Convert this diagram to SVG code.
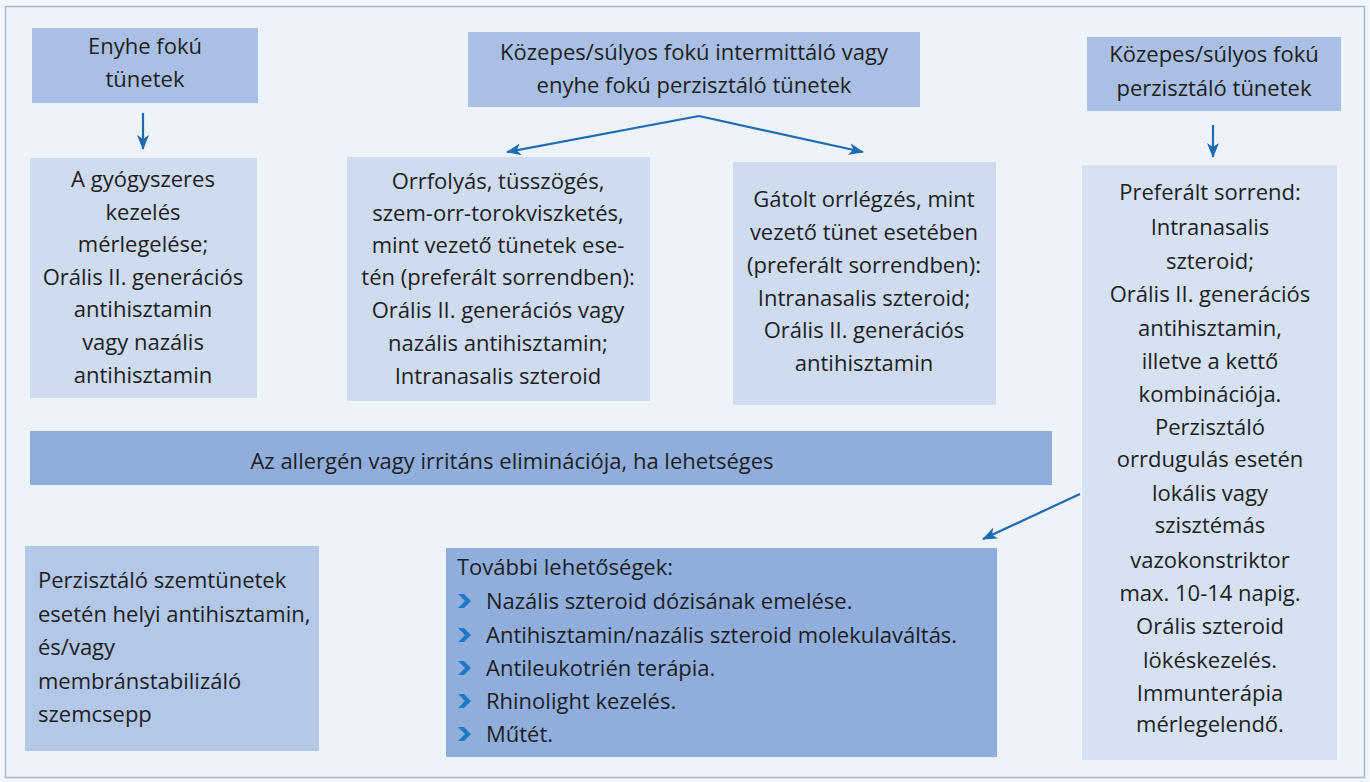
<svg xmlns="http://www.w3.org/2000/svg" width="1370" height="782" viewBox="0 0 1370 782">
<defs>
<style>
text{font-family:"Open Sans","Noto Sans","Liberation Sans",sans-serif;font-size:22px;fill:#1e1e1e}
.c{text-anchor:middle}
.arrow{stroke:#1f6bb3;stroke-width:2.2;fill:none}
.top{fill:#a9c0e4}
.light{fill:#cfdbee}
.lighter{fill:#d6e1f1}
.dark{fill:#8faedc}
.mid{fill:#b3c7e8}
.bul{fill:#1f78c8}
</style>
<marker id="ah" viewBox="0 0 15 12" refX="14" refY="6" markerWidth="15" markerHeight="12" markerUnits="userSpaceOnUse" orient="auto">
<path d="M0,0 L15,6 L0,12 L4,6 Z" fill="#1f6bb3"/>
</marker>
<polygon id="chev" points="0,0 6,0 13,7 6,14 0,14 7,7" class="bul"/>
</defs>
<rect x="0" y="0" width="1370" height="782" fill="#f2f6fb"/>
<rect x="5.5" y="6.5" width="1359" height="771" fill="#eef3fa" stroke="#a9b8cc" stroke-width="1.5"/>

<g id="n-enyhe">
<rect class="top" x="32" y="28" width="226" height="75"/>
<text class="c" x="145" y="54">Enyhe fokú</text>
<text class="c" x="145" y="87">tünetek</text>
</g>
<g id="n-kozepes-int">
<rect class="top" x="468" y="32" width="452" height="75"/>
<text class="c" x="694" y="60">Közepes/súlyos fokú intermittáló vagy</text>
<text class="c" x="694" y="93">enyhe fokú perzisztáló tünetek</text>
</g>
<g id="n-kozepes-perz">
<rect class="top" x="1087" y="37" width="254" height="74"/>
<text class="c" x="1214" y="62">Közepes/súlyos fokú</text>
<text class="c" x="1214" y="96">perzisztáló tünetek</text>
</g>
<g id="n-gyogyszeres">
<rect class="light" x="30" y="158" width="227" height="240"/>
<text class="c" x="143" y="187">A gyógyszeres</text>
<text class="c" x="143" y="220">kezelés</text>
<text class="c" x="143" y="252">mérlegelése;</text>
<text class="c" x="143" y="285">Orális II. generációs</text>
<text class="c" x="143" y="317">antihisztamin</text>
<text class="c" x="143" y="350">vagy nazális</text>
<text class="c" x="143" y="383">antihisztamin</text>
</g>
<g id="n-orrfolyas">
<rect class="light" x="347" y="157" width="303" height="244"/>
<text class="c" x="498" y="189">Orrfolyás, tüsszögés,</text>
<text class="c" x="498" y="221">szem-orr-torokviszketés,</text>
<text class="c" x="498" y="253">mint vezető tünetek ese-</text>
<text class="c" x="498" y="285">tén (preferált sorrendben):</text>
<text class="c" x="498" y="318">Orális II. generációs vagy</text>
<text class="c" x="498" y="351">nazális antihisztamin;</text>
<text class="c" x="498" y="384">Intranasalis szteroid</text>
</g>
<g id="n-gatolt">
<rect class="light" x="733" y="162" width="263" height="243"/>
<text class="c" x="864" y="207">Gátolt orrlégzés, mint</text>
<text class="c" x="864" y="240">vezető tünet esetében</text>
<text class="c" x="864" y="273">(preferált sorrendben):</text>
<text class="c" x="864" y="306">Intranasalis szteroid;</text>
<text class="c" x="864" y="338">Orális II. generációs</text>
<text class="c" x="864" y="371">antihisztamin</text>
</g>
<g id="n-preferalt">
<rect class="lighter" x="1082" y="165" width="255" height="595"/>
<text class="c" x="1210" y="200">Preferált sorrend:</text>
<text class="c" x="1210" y="235">Intranasalis</text>
<text class="c" x="1210" y="269">szteroid;</text>
<text class="c" x="1210" y="302">Orális II. generációs</text>
<text class="c" x="1210" y="336">antihisztamin,</text>
<text class="c" x="1210" y="369">illetve a kettő</text>
<text class="c" x="1210" y="402">kombinációja.</text>
<text class="c" x="1210" y="435">Perzisztáló</text>
<text class="c" x="1210" y="467">orrdugulás esetén</text>
<text class="c" x="1210" y="501">lokális vagy</text>
<text class="c" x="1210" y="533">szisztémás</text>
<text class="c" x="1210" y="568">vazokonstriktor</text>
<text class="c" x="1210" y="601">max. 10-14 napig.</text>
<text class="c" x="1210" y="634">Orális szteroid</text>
<text class="c" x="1210" y="668">lökéskezelés.</text>
<text class="c" x="1210" y="701">Immunterápia</text>
<text class="c" x="1210" y="732">mérlegelendő.</text>
</g>
<g id="n-eliminacio">
<rect class="dark" x="30" y="431" width="1022" height="54"/>
<text class="c" x="512" y="469">Az allergén vagy irritáns eliminációja, ha lehetséges</text>
</g>
<g id="n-szem">
<rect class="mid" x="25" y="546" width="294" height="205"/>
<text x="38" y="588">Perzisztáló szemtünetek</text>
<text x="38" y="622">esetén helyi antihisztamin,</text>
<text x="38" y="655">és/vagy</text>
<text x="38" y="689">membránstabilizáló</text>
<text x="38" y="722">szemcsepp</text>
</g>
<g id="n-tovabbi">
<rect class="dark" x="446" y="548" width="551" height="209"/>
<text x="457" y="575">További lehetőségek:</text>
<use href="#chev" x="458" y="594"/>
<text x="486" y="609">Nazális szteroid dózisának emelése.</text>
<use href="#chev" x="458" y="628"/>
<text x="486" y="643">Antihisztamin/nazális szteroid molekulaváltás.</text>
<use href="#chev" x="458" y="661"/>
<text x="486" y="676">Antileukotrién terápia.</text>
<use href="#chev" x="458" y="694"/>
<text x="486" y="709">Rhinolight kezelés.</text>
<use href="#chev" x="458" y="727"/>
<text x="486" y="742">Műtét.</text>
</g>

<g id="connectors">
<line class="arrow" x1="143" y1="113" x2="143" y2="149" marker-end="url(#ah)"/>
<line class="arrow" x1="699" y1="116" x2="507" y2="152" marker-end="url(#ah)"/>
<line class="arrow" x1="699" y1="116" x2="863" y2="152" marker-end="url(#ah)"/>
<line class="arrow" x1="1213" y1="125" x2="1213" y2="157" marker-end="url(#ah)"/>
<line class="arrow" x1="1080" y1="494" x2="983" y2="539" marker-end="url(#ah)"/>
</g>
</svg>
